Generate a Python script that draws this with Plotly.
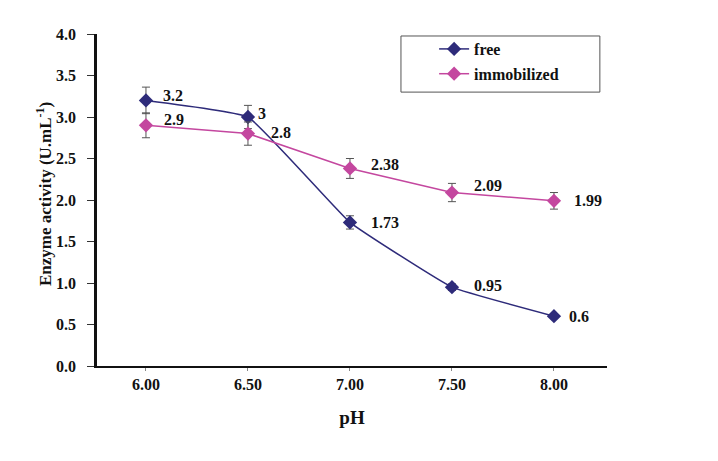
import plotly.graph_objects as go

ph = [6.00, 6.50, 7.00, 7.50, 8.00]
free = [3.2, 3.0, 1.73, 0.95, 0.6]
free_err = [0.16, 0.14, 0.08, 0.04, 0.03]
free_labels = ["3.2", "3", "1.73", "0.95", "0.6"]
immob = [2.9, 2.8, 2.38, 2.09, 1.99]
immob_err = [0.15, 0.14, 0.12, 0.11, 0.10]
immob_labels = ["2.9", "2.8", "2.38", "2.09", "1.99"]
x_ticks = [6.0, 6.5, 7.0, 7.5, 8.0]
x_ticklabels = ["6.00", "6.50", "7.00", "7.50", "8.00"]
y_ticks = [0, 0.5, 1.0, 1.5, 2.0, 2.5, 3.0, 3.5, 4.0]
y_ticklabels = ["0.0", "0.5", "1.0", "1.5", "2.0", "2.5", "3.0", "3.5", "4.0"]

# label pixel offsets (style only)
free_lbl_dx = [15, 8, 19, 20, 13]
free_lbl_dy = [5, 4, 0, 2, 0]
imm_lbl_dx = [16, 21, 19, 20, 18]
imm_lbl_dy = [6, 1, 4, 7, 0]

FREE_C = "#2E2B7A"
IMM_C = "#C4479F"
FONT = "Liberation Serif"

fig = go.Figure()
fig.add_trace(go.Scatter(
    x=ph, y=free, name="<b>free</b>", mode="lines+markers", legendgroup="a",
    line=dict(color=FREE_C, width=1.5, shape="spline", smoothing=0.3),
    marker=dict(symbol="diamond", size=11, color=FREE_C),
    error_y=dict(type="data", array=free_err, color="#555555", thickness=1, width=4),
))
fig.add_trace(go.Scatter(
    x=ph, y=immob, name="<b>immobilized</b>", mode="lines+markers", legendgroup="b",
    line=dict(color=IMM_C, width=1.5),
    marker=dict(symbol="diamond", size=11, color=IMM_C),
    error_y=dict(type="data", array=immob_err, color="#555555", thickness=1, width=4),
))

annots = []
for xs, ys, labs, dxs, dys in [(ph, free, free_labels, free_lbl_dx, free_lbl_dy),
                               (ph, immob, immob_labels, imm_lbl_dx, imm_lbl_dy)]:
    for xv, yv, lab, dx, dy in zip(xs, ys, labs, dxs, dys):
        annots.append(dict(x=xv, y=yv, xref="x", yref="y", text="<b>%s</b>" % lab,
                           showarrow=False, xanchor="left", yanchor="middle",
                           xshift=dx, yshift=dy,
                           font=dict(family=FONT, size=16, color="#111111")))
annots.append(dict(x=-0.104, y=0.518, xref="paper", yref="paper",
                   text="<b>Enzyme activity (U.mL<sup>-1</sup>)</b>", textangle=-90,
                   showarrow=False, xanchor="center", yanchor="middle",
                   font=dict(family=FONT, size=17, color="#111111")))

fig.add_shape(type="rect", xref="paper", yref="paper", x0=0.596, x1=0.986, y0=0.825, y1=0.994,
              line=dict(color="#555555", width=1), fillcolor="rgba(0,0,0,0)", layer="above")

fig.update_layout(
    width=702, height=445,
    margin=dict(l=89, r=103, t=26, b=87),
    paper_bgcolor="white", plot_bgcolor="white",
    font=dict(family=FONT, size=14, color="#111111"),
    showlegend=True,
    annotations=annots,
    legend=dict(
        x=0.661, y=1.006, xanchor="left", yanchor="top",
        borderwidth=0, bgcolor="rgba(0,0,0,0)",
        font=dict(family=FONT, size=16, color="#111111"),
        itemwidth=30, tracegroupgap=1,
    ),
    xaxis=dict(
        range=[5.76, 8.26], tickmode="array", tickvals=x_ticks,
        ticktext=["<b>%s</b>" % t for t in x_ticklabels],
        showgrid=False, zeroline=False,
        showline=True, linecolor="#111111", linewidth=2,
        ticks="outside", ticklen=3, tickcolor="#888888",
        tickfont=dict(family=FONT, size=16),
        title=dict(text="<b>pH</b>", font=dict(family=FONT, size=19), standoff=18),
    ),
    yaxis=dict(
        range=[0, 4.0], tickmode="array", tickvals=y_ticks,
        ticktext=["<b>%s</b>" % t for t in y_ticklabels],
        showgrid=False, zeroline=False,
        showline=True, linecolor="#111111", linewidth=2.5,
        ticks="outside", ticklen=7, tickcolor="#333333",
        ticklabelstandoff=8,
        tickfont=dict(family=FONT, size=16),
    ),
)

fig.write_html("out.html")
